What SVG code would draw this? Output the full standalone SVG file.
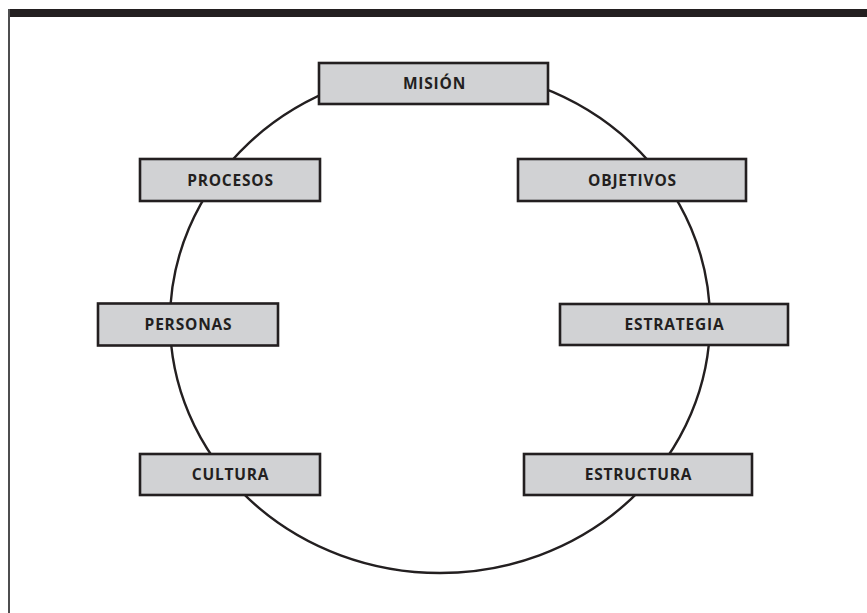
<svg xmlns="http://www.w3.org/2000/svg" width="867" height="613" viewBox="0 0 867 613">
<style>
.box{fill:#d1d2d4;stroke:#231f20;stroke-width:2.6}
.lbl{font-family:"Open Sans",Lato,"Liberation Sans",sans-serif;font-weight:700;font-size:15.5px;fill:#231f20;text-anchor:middle;letter-spacing:0.8px}
.ring{fill:none;stroke:#231f20;stroke-width:2.4}
</style>
<rect x="0" y="0" width="867" height="613" fill="#ffffff"/>
<g id="frame">
<rect x="8" y="9" width="859" height="8" fill="#231f20"/>
<line x1="9" y1="9" x2="9" y2="613" stroke="#4d4d4f" stroke-width="2"/>
</g>
<g id="connectors">
<ellipse class="ring" cx="440" cy="321" rx="270" ry="252"/>
</g>
<g id="mision"><rect class="box" x="319" y="63" width="229" height="41"/><text class="lbl" x="434.5" y="89">MISIÓN</text></g>
<g id="objetivos"><rect class="box" x="518" y="159" width="228" height="42"/><text class="lbl" x="632.5" y="185.5">OBJETIVOS</text></g>
<g id="estrategia"><rect class="box" x="560" y="304" width="228" height="41"/><text class="lbl" x="674.5" y="330">ESTRATEGIA</text></g>
<g id="estructura"><rect class="box" x="524" y="454" width="228" height="41"/><text class="lbl" x="638.5" y="480">ESTRUCTURA</text></g>
<g id="procesos"><rect class="box" x="140" y="159" width="180" height="42"/><text class="lbl" x="230.5" y="185.5">PROCESOS</text></g>
<g id="personas"><rect class="box" x="98" y="303.5" width="180" height="42"/><text class="lbl" x="188.5" y="330">PERSONAS</text></g>
<g id="cultura"><rect class="box" x="140" y="454" width="180" height="41"/><text class="lbl" x="230.5" y="480">CULTURA</text></g>
</svg>
